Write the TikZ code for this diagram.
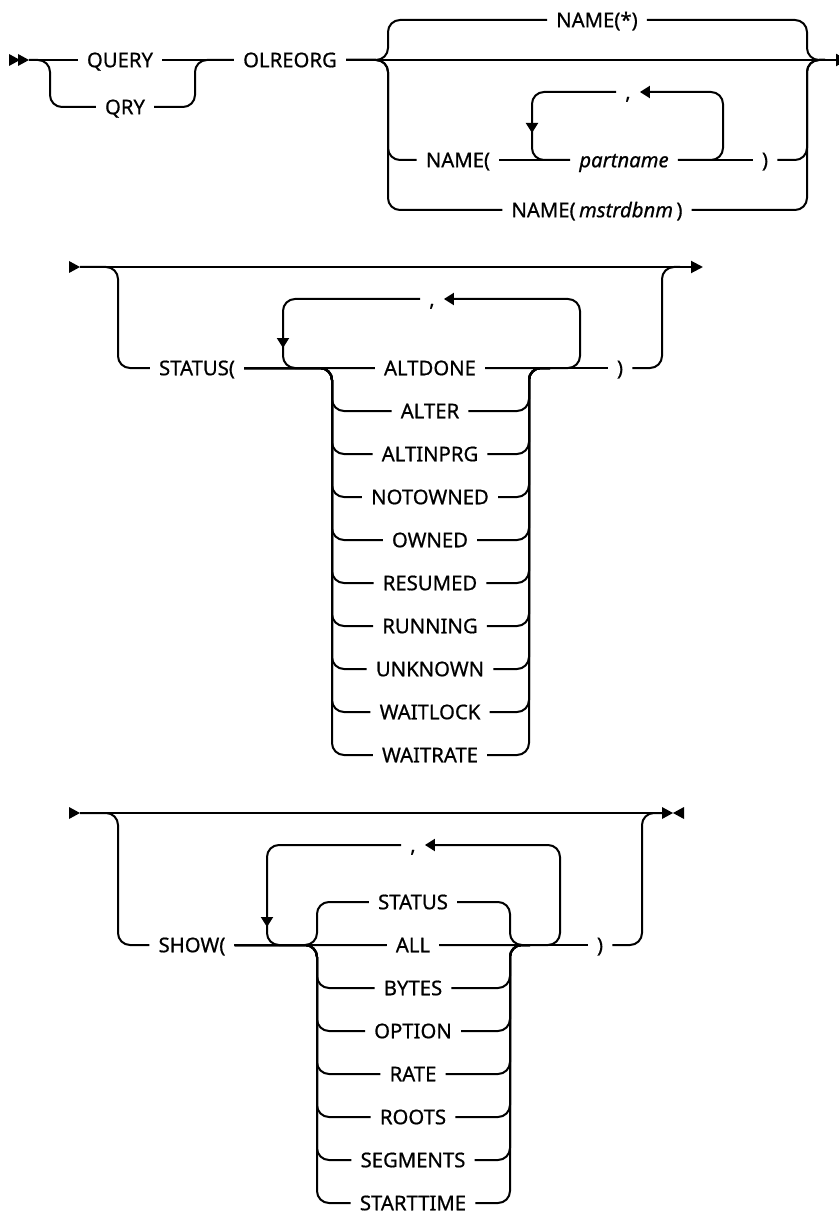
\documentclass[tikz,border=0pt]{standalone}
\usepackage{fontspec}
\setmainfont{Noto Sans}[FakeBold=0.7]
\usetikzlibrary{arrows.meta,positioning}

\begin{document}
\begin{tikzpicture}[
  x=1pt, y=-1pt,
  font=\fontsize{20.3pt}{22pt}\selectfont,
  kw/.style={inner xsep=9pt, inner ysep=0pt, text height=14.5pt, text depth=0pt},
  var/.style={kw, font=\fontsize{20.3pt}{22pt}\selectfont\itshape},
  item/.style={kw, on grid, node distance=43pt, below=of #1},
  rail/.style={line width=2pt, rounded corners=12pt},
  back/.style={rail, -{Triangle[length=10pt,width=12pt]}},
  fwd/.pic={\fill (-11,-6) -- (0,0) -- (-11,6) -- cycle;},
  rev/.pic={\fill (11,-6) -- (0,0) -- (11,6) -- cycle;}
]
\useasboundingbox (0,0) rectangle (838,1214);

% first line: QUERY OLREORG NAME(...)
\coordinate (s1) at (29,60);
\coordinate (e1) at (848,60);
\node[kw] (query) at (120,60) {QUERY};
\node[kw] (qry) at (125,107) {QRY};
\node[kw] (olreorg) at (290,60) {OLREORG};
\node[kw] (namestar) at (597,20) {NAME(*)};
\node[kw] (nameopen) at (458,160) {NAME(};
\node[var] (partname) at (624,160) {partname};
\node[kw] (comma1) at (628,92) {,};
\node[kw] (close1) at (765,160) {)};
\node[kw] (namemstr) at (597,210) {NAME(\,\textit{mstrdbnm}\,)};

\pic at (20,60) {fwd};
\pic at (29,60) {fwd};
\draw[rail] (s1) -- (query.west);
\draw[rail] (s1) -| (50,107) -- (qry.west);
\draw[rail] (query.east) -- (olreorg.west);
\draw[rail] (qry.east) -| (195,60) -- (olreorg.west);
\draw[rail, -{Triangle[length=12pt,width=12pt]}] (olreorg.east) -- (e1);
\draw[rail] (olreorg.east) -| (388,20) -- (namestar.west);
\draw[rail] (namestar.east) -| (807,60) -- (825,60);
\draw[rail] (olreorg.east) -| (388,160) -- (nameopen.west);
\draw[rail] (olreorg.east) -| (388,210) -- (namemstr.west);
\draw[rail] (nameopen.east) -- (partname.west);
\draw[rail] (partname.east) -- (close1.west);
\draw[rail] (close1.east) -| (807,60) -- (825,60);
\draw[rail] (namemstr.east) -| (807,60) -- (825,60);
\draw[back] (partname.east) -| (723,92) -- (comma1.east);
\draw[back] (comma1.west) -| (532,133);
\draw[rail] (532,125) |- (partname.west);

% second line: STATUS(...)
\coordinate (s2) at (80,267);
\coordinate (e2) at (703,267);
\node[kw] (status) at (197,368) {STATUS(};
\node[kw] (altdone) at (430,368) {ALTDONE};
\node[item=altdone] (alter) {ALTER};
\node[item=alter] (altinprg) {ALTINPRG};
\node[item=altinprg] (notowned) {NOTOWNED};
\node[item=notowned] (owned) {OWNED};
\node[item=owned] (resumed) {RESUMED};
\node[item=resumed] (running) {RUNNING};
\node[item=running] (unknown) {UNKNOWN};
\node[item=unknown] (waitlock) {WAITLOCK};
\node[item=waitlock] (waitrate) {WAITRATE};
\node[kw] (comma2) at (432,299) {,};
\node[kw] (close2) at (620,368) {)};

\pic at (80,267) {fwd};
\draw[rail, -{Triangle[length=12pt,width=12pt]}] (s2) -- (e2);
\draw[rail] (s2) -| (118,368) -- (status.west);
\draw[rail] (status.east) -- (altdone.west);
\draw[rail] (altdone.east) -- (close2.west);
\draw[rail] (close2.east) -| (662,267) -- (680,267);
\draw[back] (altdone.east) -| (580,299) -- (comma2.east);
\draw[back] (comma2.west) -| (283,348);
\draw[rail] (283,340) |- (altdone.west);
\draw[rail] (status.east) -| (332,411) -- (alter.west) (alter.east) -| (529,368) -- (550,368);
\draw[rail] (status.east) -| (332,454) -- (altinprg.west) (altinprg.east) -| (529,368) -- (550,368);
\draw[rail] (status.east) -| (332,497) -- (notowned.west) (notowned.east) -| (529,368) -- (550,368);
\draw[rail] (status.east) -| (332,540) -- (owned.west) (owned.east) -| (529,368) -- (550,368);
\draw[rail] (status.east) -| (332,583) -- (resumed.west) (resumed.east) -| (529,368) -- (550,368);
\draw[rail] (status.east) -| (332,626) -- (running.west) (running.east) -| (529,368) -- (550,368);
\draw[rail] (status.east) -| (332,669) -- (unknown.west) (unknown.east) -| (529,368) -- (550,368);
\draw[rail] (status.east) -| (332,712) -- (waitlock.west) (waitlock.east) -| (529,368) -- (550,368);
\draw[rail] (status.east) -| (332,755) -- (waitrate.west) (waitrate.east) -| (529,368) -- (550,368);

% third line: SHOW(...)
\coordinate (s3) at (80,813);
\coordinate (e3) at (662,813);
\node[kw] (show) at (192,945) {SHOW(};
\node[kw] (showstatus) at (413,902) {STATUS};
\node[kw] (all) at (413,945) {ALL};
\node[item=all] (bytes) {BYTES};
\node[item=bytes] (option) {OPTION};
\node[item=option] (rate) {RATE};
\node[item=rate] (roots) {ROOTS};
\node[item=roots] (segments) {SEGMENTS};
\node[item=segments] (starttime) {STARTTIME};
\node[kw] (comma3) at (413,845) {,};
\node[kw] (close3) at (600,945) {)};

\pic at (80,813) {fwd};
\draw[rail] (s3) -- (e3);
\pic at (673,813) {fwd};
\pic at (673,813) {rev};
\draw[rail] (s3) -| (118,945) -- (show.west);
\draw[rail] (show.east) -- (all.west);
\draw[rail] (all.east) -- (close3.west);
\draw[rail] (close3.east) -| (642,813) -- (e3);
\draw[back] (all.east) -| (560,845) -- (comma3.east);
\draw[back] (comma3.west) -| (267,927);
\draw[rail] (267,918) |- (all.west);
\draw[rail] (show.east) -| (317,902) -- (showstatus.west) (showstatus.east) -| (510,945) -- (530,945);
\draw[rail] (show.east) -| (317,988) -- (bytes.west) (bytes.east) -| (510,945) -- (530,945);
\draw[rail] (show.east) -| (317,1031) -- (option.west) (option.east) -| (510,945) -- (530,945);
\draw[rail] (show.east) -| (317,1074) -- (rate.west) (rate.east) -| (510,945) -- (530,945);
\draw[rail] (show.east) -| (317,1117) -- (roots.west) (roots.east) -| (510,945) -- (530,945);
\draw[rail] (show.east) -| (317,1160) -- (segments.west) (segments.east) -| (510,945) -- (530,945);
\draw[rail] (show.east) -| (317,1203) -- (starttime.west) (starttime.east) -| (510,945) -- (530,945);
\end{tikzpicture}
\end{document}
